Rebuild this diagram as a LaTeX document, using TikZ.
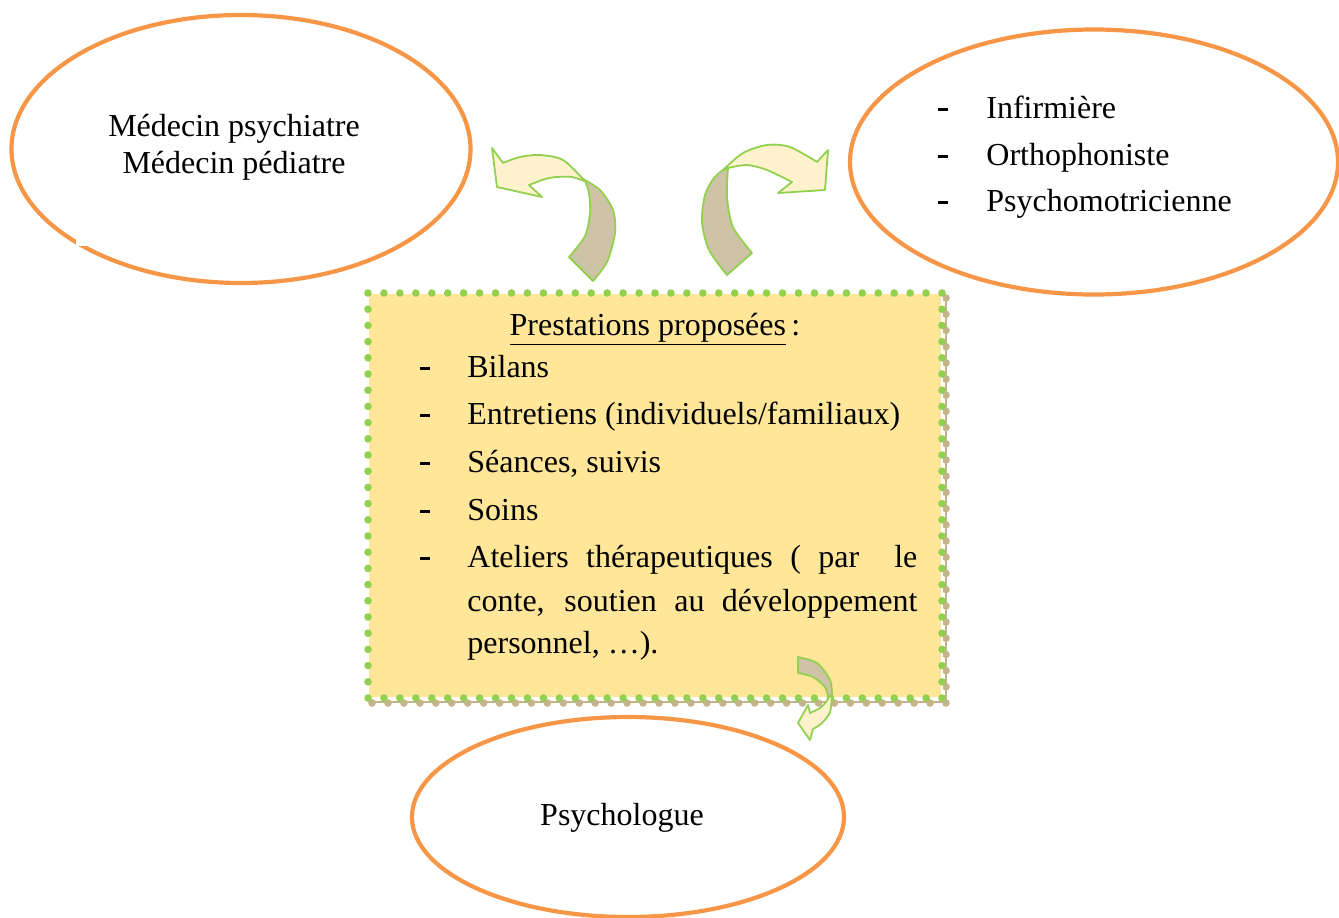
\documentclass[tikz,border=0pt]{standalone}
\usepackage{fontspec}
\setmainfont{Liberation Serif}
\usetikzlibrary{shapes.geometric}
\definecolor{orangeE}{RGB}{247,150,70}
\definecolor{greenB}{RGB}{146,208,80}
\definecolor{boxfill}{RGB}{255,230,153}
\definecolor{tanS}{RGB}{196,180,140}
\definecolor{tanF}{RGB}{206,195,165}
\definecolor{lightF}{RGB}{255,242,204}
\newcommand{\mydash}{\rule[3.6pt]{5pt}{1.4pt}}
\newcommand{\dotrect}[5]{% color, x0, y0, x1, y1
  \foreach \i in {0,...,36} {\fill[#1] ({#2+\i*((#4-#2)/36)},#3) circle[radius=3.8];
                             \fill[#1] ({#2+\i*((#4-#2)/36)},#5) circle[radius=3.8];}
  \foreach \i in {1,...,24} {\fill[#1] (#2,{#3+\i*((#5-#3)/25)}) circle[radius=3.8];
                             \fill[#1] (#4,{#3+\i*((#5-#3)/25)}) circle[radius=3.8];}}
\tikzset{
  ell/.style={ellipse, draw=orangeE, line width=2.1pt, inner sep=0pt},
  txt/.style={font=\fontsize{16}{19}\selectfont, inner sep=0pt, anchor=base},
  txtw/.style={txt, anchor=base west},
  tanpart/.style={fill=tanF, draw=greenB, line width=0.9pt, line join=round},
  lightpart/.style={fill=lightF, draw=greenB, line width=0.9pt, line join=round},
}
\begin{document}
\begin{tikzpicture}[x=0.5pt, y=-0.5pt]
\useasboundingbox (0,0) rectangle (1339,917);
% ellipses
\node[ell, minimum width=229.5pt, minimum height=134pt] (L) at (241,149) {};
\node[ell, minimum width=244pt, minimum height=132.5pt] (R) at (1094,162) {};
\node[ell, minimum width=216pt, minimum height=100pt] (B) at (628,817) {};
\fill[white] (76,238) rectangle (89,246);
% texts of ellipses
\node[txt] (l1) at (234,136) {Médecin psychiatre};
\node[txt] (l2) at (234,173) {Médecin pédiatre};
\node[txt] (r1d) at (943,118) {\mydash};
\node[txtw] (r1) at (986,118) {Infirmière};
\node[txt] (r2d) at (943,165) {\mydash};
\node[txtw] (r2) at (986,165) {Orthophoniste};
\node[txt] (r3d) at (943,211) {\mydash};
\node[txtw] (r3) at (986,211) {Psychomotricienne};
\node[txt] (b1) at (622,825) {Psychologue};
% box shadow
\draw[tanS, line width=1.2pt] (372,298) rectangle (946,702);
\dotrect{tanS}{372}{298}{946}{703}
% box
\fill[boxfill] (368,293) rectangle (942,698);
\draw[white, line width=0.8pt] (368,293) rectangle (942,698);
\dotrect{greenB}{368}{293}{942}{698}
% box texts
\node[txt] (t0) at (655,335) {\underline{Prestations proposées}\,:};
\node[txt] (d1) at (425,377) {\mydash};
\node[txtw] (t1) at (467,377) {Bilans};
\node[txt] (d2) at (425,424) {\mydash};
\node[txtw] (t2) at (467,424) {Entretiens (individuels/familiaux)};
\node[txt] (d3) at (425,472) {\mydash};
\node[txtw] (t3) at (467,472) {Séances, suivis};
\node[txt] (d4) at (425,520) {\mydash};
\node[txtw] (t4) at (467,520) {Soins};
\node[txt] (d5) at (425,567) {\mydash};
\node[txtw] (t5) at (467,567) {\makebox[225pt][s]{Ateliers thérapeutiques ( par \ le}};
\node[txtw] (t6) at (467,611) {\makebox[225pt][s]{conte, soutien au développement}};
\node[txtw] (t7) at (467,653) {personnel, …).};
% left curved arrow
\filldraw[tanpart] plot[smooth] coordinates {(569,257) (585,236) (590,213) (589,193) (585,181)}
  -- plot[smooth] coordinates {(583,179) (600,190) (613,210) (615,233) (607,262) (593,281)} -- cycle;
\filldraw[lightpart] plot[smooth] coordinates {(584,180) (563,160) (540,155) (520,157) (503,163)}
  -- (492,148) -- (497,187) -- (542,197) -- (529,185)
  -- plot[smooth] coordinates {(529,185) (545,179) (557,177) (572,177) (584,181)} -- cycle;
% right curved arrow
\filldraw[tanpart] plot[smooth] coordinates {(727,275) (709,250) (702,222) (705,195) (714,178) (723,170)}
  -- plot[smooth] coordinates {(728,168) (727,197) (733,227) (752,253)} -- cycle;
\filldraw[lightpart] plot[smooth] coordinates {(723,170) (743,153) (767,145) (790,147) (817,162)}
  -- (828,150) -- (825,190) -- (778,193) -- (792,182)
  -- plot[smooth] coordinates {(792,182) (767,170) (747,165) (728,168)} -- cycle;
% bottom small curved arrow
\filldraw[tanpart] plot[smooth] coordinates {(798,657) (817,663) (830,680) (832,695)}
  -- plot[smooth] coordinates {(828,697) (825,687) (813,677) (798,673)} -- cycle;
\filldraw[lightpart] plot[smooth] coordinates {(832,695) (830,712) (822,723) (813,729)}
  -- (810,740) -- (798,723) -- (808,705) -- (810,713)
  -- plot[smooth] coordinates {(810,713) (820,708) (826,702) (829,697)} -- cycle;
\end{tikzpicture}
\end{document}
